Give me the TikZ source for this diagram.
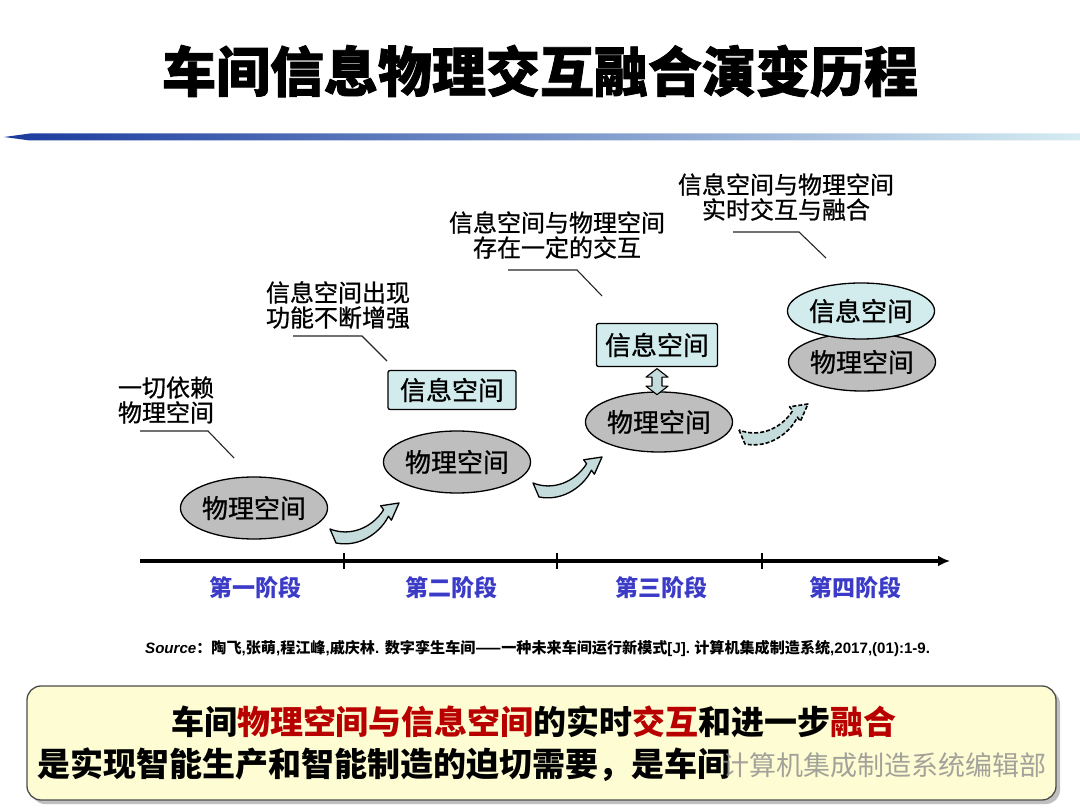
\documentclass[tikz,border=0pt]{standalone}
\usepackage{fontspec}
\setmainfont{Noto Sans CJK SC}
\newfontfamily\cjk{Noto Sans CJK SC}
\newfontfamily\cjkmed[FakeBold=0.8]{Noto Sans CJK SC}
\newfontfamily\cjkheavy[BoldFeatures={FakeBold=1.5}]{Noto Sans CJK SC}
\newfontfamily\arial{Liberation Sans}
\usetikzlibrary{arrows.meta,shapes.geometric,calc}
\definecolor{cyanfill}{HTML}{D2ECEE}
\definecolor{grayfill}{HTML}{BEBEBE}
\definecolor{arrowfill}{HTML}{C4DCDC}
\definecolor{stageblue}{HTML}{3B3BC8}
\definecolor{hired}{HTML}{B80000}
\definecolor{yellowfill}{HTML}{FDFCD3}
\definecolor{lineblueA}{HTML}{1A3A9E}
\definecolor{lineblueB}{HTML}{6A8ECC}
\definecolor{lineblueC}{HTML}{D6ECF2}
\newcommand\curvedarrow[2]{%
  \begin{scope}[shift={#1}]
    \draw[#2] (0,0) -- (6,14) .. controls (32,19) and (52,1) .. (58.4,-12.8)
      -- (61.4,-8.8) -- (69,-26) -- (50.6,-23.2) -- (53.6,-19.2)
      .. controls (42,-1) and (20,8) .. (0,0) -- cycle;
  \end{scope}}
\begin{document}
\begin{tikzpicture}[x=1pt,y=-1pt,
  physell/.style={ellipse, draw=black, line width=1.3pt, fill=grayfill, inner sep=0pt,
    font=\cjkmed\fontsize{26}{28}\selectfont},
  infoell/.style={ellipse, draw=black, line width=1.3pt, fill=cyanfill, inner sep=0pt,
    font=\cjkmed\fontsize{26}{28}\selectfont},
  infobox/.style={draw=black, line width=1.3pt, fill=cyanfill, rounded corners=2pt, inner sep=0pt,
    font=\cjkmed\fontsize{26}{28}\selectfont},
  note/.style={font=\cjkmed\fontsize{24}{25}\selectfont, inner sep=0pt},
  leader/.style={draw=black!85, line width=1.1pt},
  stage/.style={font=\bfseries\fontsize{23}{25}\selectfont, text=stageblue},
  bigarrow/.style={fill=arrowfill, draw=black, line width=1.3pt, line join=round},
  dasharrow/.style={fill=arrowfill, draw=black, line width=1.6pt, dash pattern=on 4pt off 2pt, line join=round},
]
\useasboundingbox (0,0) rectangle (1080,810);
\fill[white] (0,0) rectangle (1080,810);

% title
\node[font=\cjkheavy\bfseries\fontsize{54}{58}\selectfont] (title) at (540,71) {车间信息物理交互融合演变历程};

% gradient rule
\shade[left color=lineblueA, middle color=lineblueB, right color=lineblueC]
  (4,137) -- (30,133.5) -- (1080,133.5) -- (1080,140.5) -- (30,140.5) -- cycle;

% timeline
\coordinate (ax0) at (140,561);
\coordinate (ax1) at (950,561);
\draw[line width=3.2pt, -{Latex[length=12pt,width=11pt]}] (ax0) -- (ax1);
\foreach \x in {344,557,762} \draw[line width=2pt] (\x,553) -- (\x,569);
\node[stage] (s1) at (255,588) {第一阶段};
\node[stage] (s2) at (451,588) {第二阶段};
\node[stage] (s3) at (661,588) {第三阶段};
\node[stage] (s4) at (855,588) {第四阶段};

% stage 1
\node[physell, minimum width=146pt, minimum height=62pt] (e1) at (254,508) {物理空间};
% stage 2
\node[physell, minimum width=142pt, minimum height=62pt] (e2) at (457,462) {物理空间};
\node[infobox, minimum width=128pt, minimum height=39pt] (b1) at (452,390) {信息空间};
% stage 3
\node[physell, minimum width=143pt, minimum height=60pt] (e3) at (659,422) {物理空间};
\node[infobox, minimum width=121pt, minimum height=43pt] (b2) at (657,345) {信息空间};
\begin{scope}[shift={(b2.south)}]
  \draw[bigarrow, line width=1.1pt] (0,1.5) -- (11,10) -- (5,10) -- (5,19) -- (11,19) -- (0,27.5)
    -- (-11,19) -- (-5,19) -- (-5,10) -- (-11,10) -- cycle;
\end{scope}
% stage 4
\node[physell, minimum width=142pt, minimum height=58pt] (e4) at (862,362) {物理空间};
\node[infoell, minimum width=142pt, minimum height=56pt] (e5) at (861,311) {信息空间};

% curved arrows
\curvedarrow{(330,529)}{bigarrow}
\curvedarrow{(533,483)}{bigarrow}
\curvedarrow{(739,430)}{dasharrow}

% notes
\node[note, align=left] (n1) at (166,400) {一切依赖\\物理空间};
\coordinate (l1a) at (140,431); \coordinate (l1b) at (208,431); \coordinate (l1c) at (234,458);
\draw[leader] (l1a) -- (l1b) -- (l1c);

\node[note, align=left] (n2) at (338,305) {信息空间出现\\功能不断增强};
\coordinate (l2a) at (293,336); \coordinate (l2b) at (362,336); \coordinate (l2c) at (387,361);
\draw[leader] (l2a) -- (l2b) -- (l2c);

\node[note, align=center] (n3) at (557,235) {信息空间与物理空间\\存在一定的交互};
\coordinate (l3a) at (508,270); \coordinate (l3b) at (577,270); \coordinate (l3c) at (602,296);
\draw[leader] (l3a) -- (l3b) -- (l3c);

\node[note, align=center] (n4) at (786,197) {信息空间与物理空间\\实时交互与融合};
\coordinate (l4a) at (733,232); \coordinate (l4b) at (799,232); \coordinate (l4c) at (826,258);
\draw[leader] (l4a) -- (l4b) -- (l4c);

% source
\node[anchor=west, inner sep=0pt, font=\bfseries\fontsize{15.1}{17}\selectfont] (src) at (145,648)
  {{\arial\itshape Source}：陶飞{\arial ,}张萌{\arial ,}程江峰{\arial ,}戚庆林{\arial . }数字孪生车间——一种未来车间运行新模式{\arial [J]. }计算机集成制造系统{\arial ,2017,(01):1-9.}};

% bottom box
\fill[black!25, rounded corners=14pt] (31,690) rectangle (1060,804);
\node[draw=black!70, line width=1.3pt, rounded corners=14pt, fill=yellowfill,
  minimum width=1029pt, minimum height=114pt] (bb) at (541.5,743) {};
\node[font=\bfseries\fontsize{33}{36}\selectfont, inner sep=0pt] (bt1) at (534,722)
  {车间\textcolor{hired}{物理空间与信息空间}的实时\textcolor{hired}{交互}和进一步\textcolor{hired}{融合}};
\node[font=\bfseries\fontsize{33}{36}\selectfont, inner sep=0pt, anchor=west] (bt2) at (37,765)
  {是实现智能生产和智能制造的迫切需要，是车间};
\node[font=\fontsize{27}{30}\selectfont, inner sep=0pt, anchor=west, text=black!45, opacity=0.8] (wm) at (722,765)
  {计算机集成制造系统编辑部};
\end{tikzpicture}
\end{document}
